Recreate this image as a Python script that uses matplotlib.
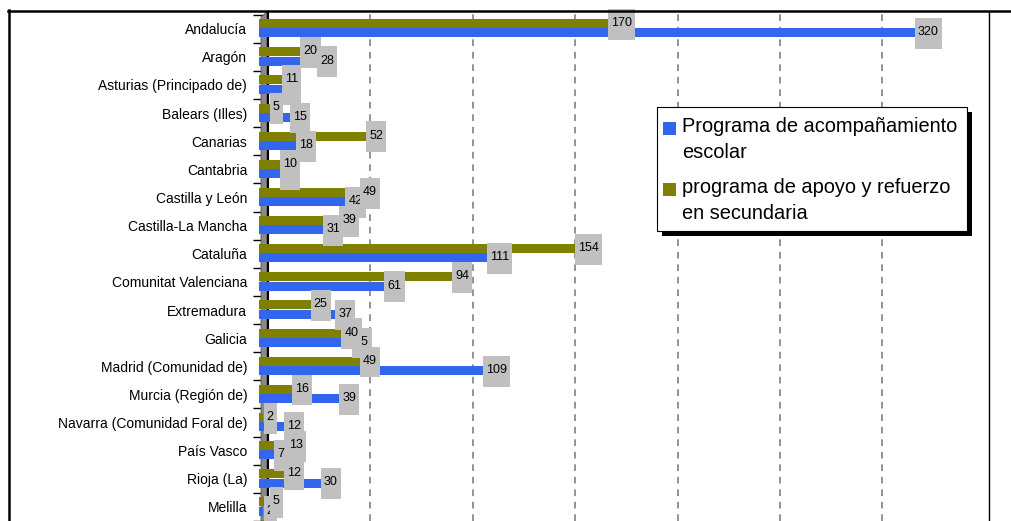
import matplotlib
matplotlib.use('Agg')
import matplotlib.pyplot as plt
import matplotlib.transforms as mtransforms
from matplotlib.patches import Rectangle, Polygon
from matplotlib.path import Path
from matplotlib.lines import Line2D

plt.rcParams['font.family'] = ['Liberation Sans', 'DejaVu Sans']

comunidades = ['Andalucía', 'Aragón', 'Asturias (Principado de)', 'Balears (Illes)',
               'Canarias', 'Cantabria', 'Castilla y León', 'Castilla-La Mancha',
               'Cataluña', 'Comunitat Valenciana', 'Extremadura', 'Galicia',
               'Madrid (Comunidad de)', 'Murcia (Región de)',
               'Navarra (Comunidad Foral de)', 'País Vasco', 'Rioja (La)', 'Melilla']
acompanamiento = [320, 28, 11, 15, 18, 10, 42, 31, 111, 61, 37, 45, 109, 39, 12, 7, 30, 2]
apoyo_refuerzo = [170, 20, 11, 5, 52, 10, 49, 39, 154, 94, 25, 40, 49, 16, 2, 13, 12, 5]

serie_azul = 'Programa de acompañamiento\nescolar'
serie_oliva = 'programa de apoyo y refuerzo\nen secundaria'

AZUL = '#3366EE'
OLIVA = '#808000'
W, H = 1012, 521


def fx(x):
    return x / W


def fy(y):
    return 1 - y / H


def caja_gris(x0, y0, width, height, mutation_size):
    # label box: narrow at the sides, tall, a bit more room below the digits
    px = 0.25 * mutation_size
    arriba = 0.65 * mutation_size
    abajo = 0.85 * mutation_size
    x1, x2 = x0 - px, x0 + width + px
    y1, y2 = y0 - abajo, y0 + height + arriba
    return Path([(x1, y1), (x2, y1), (x2, y2), (x1, y2), (x1, y1)], closed=True)


fig = plt.figure(figsize=(W / 100, H / 100), dpi=100)
ax = fig.add_axes([fx(268), 0, (989 - 268) / W, (H - 12) / H])

n = len(comunidades)
ys = list(range(n))
ax.set_xlim(0, 352)
ax.set_ylim((521 - 29) / 28.6, (12 - 29) / 28.6)

# front face of the 3d bars sits a bit left of the back wall
frente = ax.transData + mtransforms.ScaledTranslation(-8.6 / 100, 0, fig.dpi_scale_trans)

b_oliva = ax.barh([y - 0.18 for y in ys], apoyo_refuerzo, height=0.32, color=OLIVA, zorder=3)
b_azul = ax.barh([y + 0.15 for y in ys], acompanamiento, height=0.32, color=AZUL, zorder=3)
for p in list(b_oliva) + list(b_azul):
    p.set_transform(frente)
    p.set_clip_on(False)

caja = dict(boxstyle=caja_gris, fc='#C0C0C0', ec='none')
for vals, off in [(acompanamiento, 0.13), (apoyo_refuerzo, -0.2)]:
    for y, v in zip(ys, vals):
        ax.annotate(str(v), xy=(v, y + off), xycoords=frente,
                    xytext=(2.3, 0), textcoords='offset points',
                    ha='left', va='center', fontsize=9, bbox=caja,
                    zorder=4, annotation_clip=False)

ax.set_xticks(range(50, 301, 50))
ax.xaxis.grid(True, color='#808080', linestyle=(0, (4, 3.5)), linewidth=1.2)
ax.tick_params(axis='x', length=0, labelbottom=False)

ax.set_yticks(ys)
ax.set_yticklabels(comunidades)
ax.set_yticks([y - 0.5 for y in range(n + 1)], minor=True)
ax.tick_params(axis='y', which='major', length=0, pad=15, labelsize=10)
ax.tick_params(axis='y', which='minor', length=11, width=1, color='black', direction='out')

for s in ['top', 'bottom']:
    ax.spines[s].set_visible(False)
ax.spines['left'].set_linewidth(1.5)
ax.spines['right'].set_linewidth(1)

# gray side wall of the 3d chart
pared = Polygon([(fx(261), fy(17)), (fx(267), fy(12)), (fx(267), fy(H)), (fx(261), fy(H))],
                closed=True, transform=fig.transFigure, fc='#8A8A8A', ec='#555555',
                lw=0.6, zorder=2, clip_on=False)
ax.add_patch(pared)

# legend
fig.patches.append(Rectangle((fx(662), fy(236)), (972 - 662) / W, (236 - 112) / H,
                             transform=fig.transFigure, fc='black', ec='none', zorder=5))
fig.patches.append(Rectangle((fx(657), fy(231)), (967 - 657) / W, (231 - 107) / H,
                             transform=fig.transFigure, fc='white', ec='black', lw=0.8, zorder=6))
fig.patches.append(Rectangle((fx(663), fy(135)), 13 / W, 13 / H,
                             transform=fig.transFigure, fc=AZUL, ec='none', zorder=7))
fig.patches.append(Rectangle((fx(663), fy(196)), 13 / W, 13 / H,
                             transform=fig.transFigure, fc=OLIVA, ec='none', zorder=7))
lineas = serie_azul.split('\n') + serie_oliva.split('\n')
for txt, yb in zip(lineas, [132, 158, 193, 219]):
    fig.text(fx(682), fy(yb), txt, fontsize=14.4, va='baseline', ha='left', zorder=8)

# outer chart border
fig.lines.append(Line2D([fx(8), 1], [fy(11), fy(11)], transform=fig.transFigure,
                        color='black', lw=1.8))
fig.lines.append(Line2D([fx(8.5), fx(8.5)], [fy(10), 0], transform=fig.transFigure,
                        color='black', lw=1.8))

fig.savefig('out.png', dpi=100)
